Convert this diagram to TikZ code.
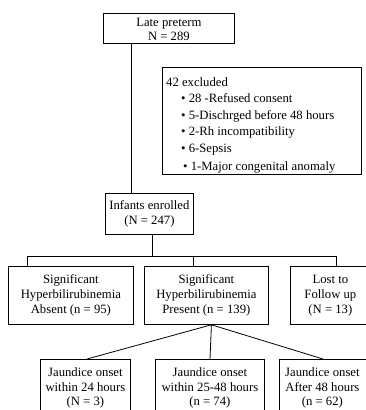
\documentclass[tikz,border=0pt]{standalone}
\usepackage{fontspec}
\setmainfont{Liberation Serif}
\usetikzlibrary{calc}
\tikzset{
  box/.style={draw, line width=0.8pt, align=center, inner sep=0pt, anchor=north west,
    font=\fontsize{12.7}{15}\selectfont},
  txt/.style={inner sep=0pt, align=center, anchor=north, font=\fontsize{12.7}{14.5}\selectfont},
  conn/.style={line width=0.8pt},
}
\begin{document}
\begin{tikzpicture}[x=1pt,y=-1pt]
\useasboundingbox (0,0) rectangle (366,410);
\clip (0,0) rectangle (366,410);
% top
\node[box, minimum width=131, minimum height=30] (lp) at (103,13) {};
\node[txt] (lpt) at ($(lp.north)+(0,4.5)$) {Late preterm\\N = 289};
\node[box, minimum width=199, minimum height=107] (excl) at (162,67) {};
\node[anchor=north west, inner sep=0pt, align=left, font=\fontsize{12.7}{16.5}\selectfont] (exclt) at (166,77)
  {42 excluded\\
   \hspace*{15pt}\textbullet\ 28 -Refused consent\\
   \hspace*{15pt}\textbullet\ 5-Dischrged before 48 hours\\
   \hspace*{15pt}\textbullet\ 2-Rh incompatibility\\
   \hspace*{15pt}\textbullet\ 6-Sepsis\\[1.5pt]
   \hspace*{17pt}\textbullet\ 1-Major congenital anomaly};
\node[box, minimum width=88, minimum height=41] (enr) at (105,193) {Infants enrolled\\(N = 247)};
% row 2
\node[box, minimum width=125, minimum height=58] (sa) at (8,266) {Significant\\Hyperbilirubinemia\\Absent (n = 95)};
\node[box, minimum width=124, minimum height=58] (sp) at (144,266) {Significant\\Hyperbilirubinemia\\Present (n = 139)};
\node[box, minimum width=80, minimum height=58] (lf) at (290,266) {Lost to\\Follow up\\(N = 13)};
% row 3
\node[box, minimum width=90, minimum height=70] (j1) at (40,359) {};
\node[box, minimum width=109, minimum height=70] (j2) at (155,359) {};
\node[box, minimum width=90, minimum height=70] (j3) at (279,359) {};
\node[txt] (j1t) at ($(j1.north)+(0,8.5)$) {Jaundice onset\\within 24 hours\\(N = 3)};
\node[txt] (j2t) at ($(j2.north)+(0,8.5)$) {Jaundice onset\\within 25-48 hours\\(n = 74)};
\node[txt] (j3t) at ($(j3.north)+(-2,8.5)$) {Jaundice onset\\After 48 hours\\(n = 62)};
% connectors
\coordinate (lpo) at ($(lp.south west)+(28,0)$);
\draw[conn] (lpo) -- (lpo |- enr.north);
\coordinate (eo) at ($(enr.south)+(3,0)$);
\coordinate (bL) at (27,256);
\coordinate (bM) at (193,256);
\coordinate (bR) at (336,256);
\draw[conn] (eo) -- (eo |- bL);
\draw[conn] (bL) -- (bR);
\draw[conn] (bL) -- (bL |- sa.north);
\draw[conn] (bM) -- (bM |- sp.north);
\draw[conn] (bR) -- (bR |- lf.north);
\coordinate (spo) at ($(sp.south)+(5,0)$);
\draw[conn] (spo) -- ($(j1.north west)+(47,0)$);
\draw[conn] (spo) -- ($(j2.north west)+(55,0)$);
\draw[conn] (spo) -- ($(j3.north west)+(44,0)$);
\end{tikzpicture}
\end{document}
